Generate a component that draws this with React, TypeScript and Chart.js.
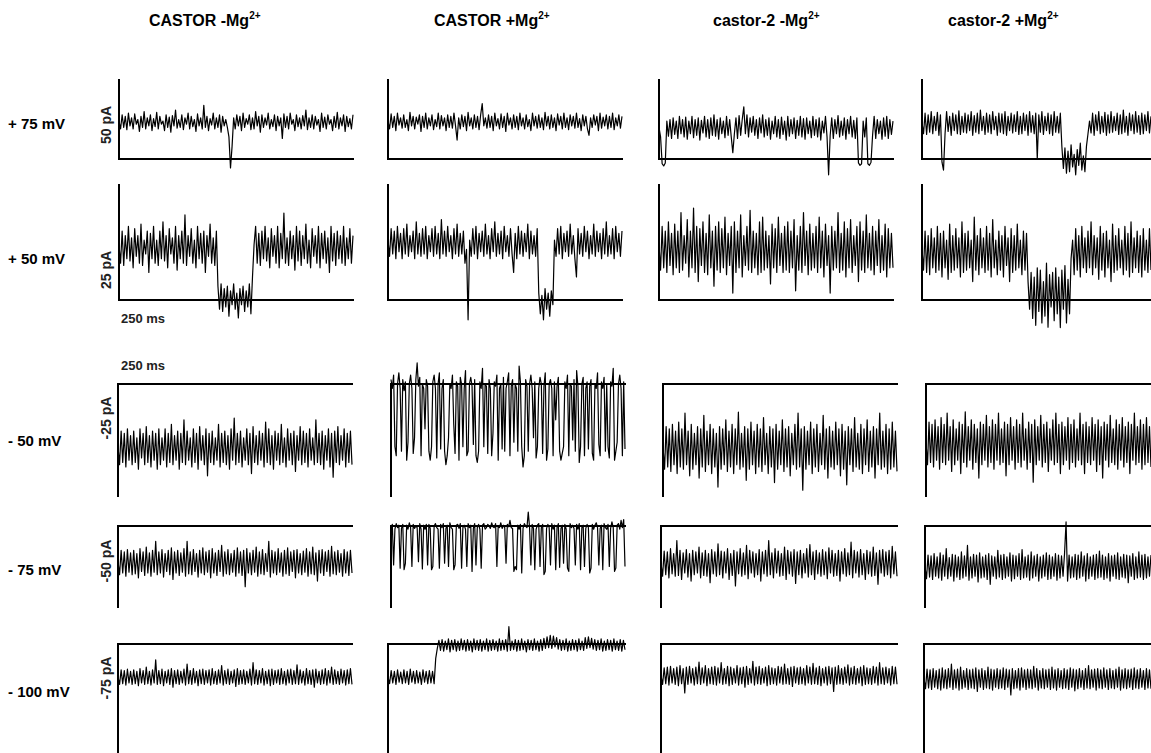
import React, { useEffect, useRef } from "react";
import { Chart, registerables } from "chart.js";

Chart.register(...registerables);

// ---------- text ----------
const columnTitles = ["CASTOR -Mg", "CASTOR +Mg", "castor-2 -Mg", "castor-2 +Mg"];
const ionCharge = "2+";
const voltageLabels = ["+ 75 mV", "+ 50 mV", "- 50 mV", "- 75 mV", "- 100 mV"];
const scaleBarLabels = ["50 pA", "25 pA", "-25 pA", "-50 pA", "-75 pA"];
const timeBarLabel = "250 ms";

// ---------- current scale (pA) of each row: [min, max] ----------
const rowRanges: [number, number][] = [[0, 50], [0, 25], [-25, 0], [-50, 0], [-75, 0]];

// ---------- traces (pA) ----------
// +75 mV
const r1c1 = [24,19,28,20,27,18.5,29,21,26,19,28.5,22,25,17.5,27,20,30,19,26,21,28,18,25.5,20.5,29.5,19,27,22,24,18,28,20,26.5,17,27.5,21,31,19.5,25,20,28,18.5,26,22,29,19,27,20.5,25,17.5,28.5,21,26,19,34,20,27,18,25.5,21.5,29,19,26,20,28,17,27,21,25,20,14,-5.7,8,26,19,28,21,27,18,29,20,25.5,22,28,18.5,26,19,30,21,27,17,28,20,26,21.5,29,19,25,20.5,28,18,27,21,26,13,28.5,20,27,19,29,22,25,18,28,20.5,26,19,27.5,21,31,18.5,26,20,28,19,27,21.5,25,17.5,29,20,26.5,19,28,22,25,18,27,20,29.5,19,26,21,28,17.5,27,20.5,25.5,19,28];
const r1c2 = [24,19,28.5,20,27,18,29,21.5,26,19.5,28,20,25,18,29.5,21,27,19,26.5,22,28,17.5,27,20,29,19,26,21,28,18.5,25,20.5,29,19,27.5,21,26,18,28,20,27,19.5,29,21,12,26,19,28,20.5,27,18,29.5,21,26,19,28,20,27,18.5,28,35,21,26,19.5,28,20,27,18,29,21,25.5,19,28.5,20,27,17.5,29,21.5,26,19,28,20,27,18.5,29,21,26,19,28,20.5,25,18,29,21,27,19.5,28,20,26,18.5,29.5,21,27,19,28,20,26,18,28.5,21.5,27,19,29,20,26,18.5,28,21,27,19.5,29,20,25.5,18,28,21,27,19,15,26,20,28,21.5,27,18,29,19.5,26.5,21,28,19,27,20,29,18.5,26,21,28,19.5,27];
const r1c3 = [20,14,-3,-4.4,-2.5,24,14.5,25,13,26,15.5,24,13,27,16,25,14,26.5,12.5,24,16,27,13.5,25,15,26,12,24.5,16.5,27,14,25,13,26,15,28,14.5,25,12.5,26,16,24,13.5,27,15,25,14,4,16,26,13,27.5,15,25,33,16,28,14,26,17,27,15,25,13,26,16.5,28,14,25,15,26,12.5,24,16,27,14,25,13,26.5,15.5,24,12,27,14.5,25,16,26,13,24.5,15,27,14,25.5,12.5,26,16,24,13.5,27,15,25,14,26,12,24,16.5,27,14,-10,15,26,13,25,16,27.5,14,24,15,26,12.5,25,16,27,14,24.5,13,26,-2.5,-4,-3,24,14,26,-3,-4,-2,15,27,13,25,16,24,12.5,26,14.5,27,13,25,15.5,24];
const r1c4 = [23,16,29,15.5,28,17,30,16,27,18,29.5,15,28,-2,-7,16,30,17.5,27,15,29,18,28,16,30.5,15.5,27,17,29,16.5,28,18,30,15,27.5,17,29,16,31,18,27,15.5,29,17,28,16,30,18.5,27,15,29,17,28.5,16,30,15,27,18,29,16.5,28,17.5,30,15.5,27,16,29,18,28,15,30,17,27.5,16,29,0,28,17,30,15.5,27,18,29,16,28,15,30,17,27,16.5,29,8,-6,7,-9,5,-8,9,-5,3,-10,6,-4,10,-7,2,-8,8,16,24,16.5,29,15,28,18,30,16,27,17,29.5,15,28,16.5,30,17,27,18,29,15.5,28,16,31,17,27,15,29,18,28,16,30,17,27.5,15.5,29,16,28,18,30,16.5,27];
// +50 mV
const r2c1 = [12,8,15,7.5,14,9,16,8.5,13.5,7,15.5,9.5,14,8,16.5,7.5,13,10,15,6,14.5,9,16,8,13,7.5,15,9,17,8.5,14,7,15.5,10,13.5,8,16,6.5,14,9,15,8,18.5,7.5,14,9.5,15.5,8,13,7,16,9,14.5,8,15,6,14,9.5,16.5,8,13.5,7.5,15,3,-2,3.5,-2.5,2.5,-1.5,3,-3.5,2,-1,3.5,-2,1.5,-3.9,2.5,-1,3,-2.5,2,-1.5,3.5,-3,5,12,16,8,14.5,7.5,15,9,16,8.5,13.5,7,15.5,9.5,14,8,16,7,14.5,9,18.9,8,13.5,7.5,15,9,14,6.5,16,8.5,15,7.5,14,9,16.5,8,13,7,15.5,9.5,14,8,16,7,14.5,9,15,8,13.5,6,16,8.5,14.5,7.5,15,9,14,8,16,7.5,13.5,9,15.5,8,14];
const r2c2 = [13,9.5,15.5,10,15,9,16,10.5,14.5,9,15.5,10,16.5,9.5,14,10.5,15,9,17,10,14.5,9.5,15.5,10,16,9,14,10.5,15.5,9.5,16,10,14.5,9,17.5,10,15,9.5,16,10.5,14,9,15.5,10,16.5,9.5,14.5,10,15,8,11,-4.3,13,9.5,15.5,10,16,9,14.5,10.5,15,9.5,16.5,10,14,9,15.5,10.5,17,9.5,14.5,10,15,9,16,10.5,14,9.5,15.5,10,6,14.5,9,16,10,15,9.5,14.5,10.5,16.5,9,15,10,14,9.5,15.5,1.5,-3,1,-4.3,2.5,-2,1.5,-3.5,2,-1,13,9.5,15.5,10,16,9,14.5,10.5,15,9.5,16.5,10,14,9,5,15.5,10,14.5,9.5,16,10.5,15,9,14,10,16.5,9.5,15,10.5,14.5,9,15.5,10,17,9.5,14,10,15.5,9,16,10.5,14.5,9.5,15];
const r2c3 = [12,6.5,16,7,15,6,17,7.5,14.5,5.5,16.5,7,15,6,19,6.5,14,8,17.5,5,15,7,20,6,16,4,15.5,7.5,17,6,14.5,5.5,18.5,7,15,3,16,6.5,17,6,15.5,7,18,5.5,14.5,7.5,16,1.5,17,6,15,7,18.5,5,14,7.5,16,6.5,19.5,6,15,7,14.5,5.5,17,6,18,6.5,15,7,14,3.5,16.5,7,15.5,6,18,7.5,14.5,6,16,6.5,17,6,15,7,17.5,2,14,6.5,16,6,19,7.5,15,5.5,16.5,6.5,14.5,7,16,6,18,7,15,5,16.5,7.5,14,1.5,16,6.5,15,7,19,6,14.5,6.5,17,5,15.5,7,17.5,6,14,7.5,16,4,17,6.5,15,6,18.5,7,14.5,6.5,16,5.5,15,7.5,17.5,6,14,6.5,16.5,5,15.5,7,14.5,7];
const r2c4 = [11,6.5,15,6,14,5.5,15.5,7,13.5,6,16,6.5,14.5,5,15,7,13,4.5,16.5,6,14,6.5,15.5,7,13.5,5,17,6,14.5,6.5,15,7,13,4,18,6.5,14,5.5,15.5,7,13.5,6,16,6.5,14.5,5,17.5,7,13,5.5,15,6.5,14,5,16,7.5,13.5,4,15.5,6,14,6.5,16.5,7,13,5.5,15,6.5,14.5,4,-2,6,-4,5,-5.5,7,-2.5,6.5,-5,4,-3.5,8,-5.9,5.5,-1.5,6,-4.5,7,-3,5,-6,6.5,-2,7.5,-5,4.5,-3,9,13,5.5,15.5,6.5,14,5,16,7,13.5,6,15,7,17,5.5,14,7,13.5,4.5,16,6.5,14.5,5,15,7,13,4,16.5,6,14,6.5,15.5,7,13,5.5,16,6.5,14.5,5,17,6,13.5,7,15,6,14,5,15.5,6.5,13,6,15.5,6.5];
// -50 mV
const r3c1 = [-14,-18,-10.5,-17.5,-11,-18.5,-10,-17,-11.5,-18,-10.5,-17.5,-12,-19,-10,-16.5,-11,-18,-9.5,-17.5,-11.5,-18.5,-10.5,-17,-11,-19,-10,-18,-12,-17,-10,-18.5,-11,-17.5,-9,-18,-11.5,-17,-10.5,-19,-11,-17.5,-8,-18,-10.5,-17,-12,-18.5,-10,-17.5,-11,-19,-9.5,-17,-11.5,-18,-10,-20.5,-11,-17.5,-10.5,-18,-12,-17,-9,-18.5,-11,-17.5,-10.5,-18,-11.5,-19,-10,-17,-7.6,-18,-11,-17.5,-10.5,-18.5,-12,-17,-10,-18,-11,-20,-9.5,-17.5,-11.5,-18,-10.5,-17,-11,-18.5,-8.5,-17.5,-10,-18,-11.5,-19,-10.5,-17,-11,-18,-9,-17.5,-12,-18.5,-10,-17,-11,-18,-10.5,-19.5,-11.5,-17,-9.5,-18,-10.5,-17.5,-11,-18.5,-10,-17,-12,-18,-8,-17.5,-11,-18,-10.5,-19,-11.5,-17,-10,-18.5,-11,-20.8,-10.5,-17.5,-9.5,-18,-11.5,-17,-10,-18.5,-11,-17.5,-10.5,-18];
const r3c2 = [1,-1,2,-14,-16,0,2.5,-1,-15,1,-1.5,0.5,-17,-13,0,2,-1,-15.5,-12,1,4.7,-0.5,1.5,-16,0,-1,-10,1,-0.5,-15,-17,-14,0.5,2,-1,-16.5,0,2.5,-14.5,-1,1,-15,-18,-16,-12,0,-1,2,-9,-15.5,0.5,-0.5,-17,1.5,0,-14,-1,3,-16,-15,0,1.5,-0.5,-13.5,1,-16,-17.5,-15,0.5,-1,3.5,-14,0,-0.5,-15.5,1,-1,-16,-11,0.5,-0.5,2,-17,-1,0,-14.5,1.5,-15,-1,0.5,2.5,-16,-0.5,1,-13,0,-1,-15,4,0.5,-14,-18.5,-16,1,-0.5,-15,0,2,-1,-12,0.5,-16.5,-14,-1,1.5,0,-15.5,-0.5,2.5,-17,-14.5,0,1,-1,-16,0.5,-8,-0.5,1.5,-15,-17,-15.5,-14,0.5,-1,2,-16,0,-0.5,-12.5,1,-15,3,-0.5,-17.5,-14,0,1.5,-16,-1,0.5,-14.5,-0.5,1,-15.5,-17,0,-1,2.5,-13.5,-16,0.5,-1,1.5,-15,0,-14,-16.5,0.5,-0.5,3.5,-17,-15,-13,0,2,-1,-16,0.5,-14.5];
const r3c3 = [-14,-19,-9.5,-18.5,-10,-19.5,-9,-18,-10.5,-20,-8.5,-18.5,-10,-19,-6.5,-18,-10.5,-20.5,-9,-19,-11,-18,-9.5,-21,-10,-18.5,-7,-19.5,-10.5,-18,-9,-20,-10,-18.5,-11,-23,-9.5,-19,-10,-18,-8,-19.5,-10.5,-18.5,-9,-20,-10,-18,-6.3,-19,-11,-18.5,-9.5,-21.5,-10,-19,-8.5,-18,-10.5,-20,-9,-18.5,-10,-19.5,-7.5,-18,-11,-20,-9.5,-18.5,-10,-22,-9,-19,-10.5,-18,-8,-19.5,-10,-18.5,-9.5,-20.5,-11,-18,-9,-19,-6.5,-18.5,-10,-23.7,-9.5,-19,-10.5,-18,-8.5,-20,-10,-18.5,-9,-19.5,-11,-18,-7,-19,-10,-21,-9.5,-18.5,-10.5,-19,-8.5,-18,-10,-20.5,-9,-19,-10.5,-22.5,-9.5,-18,-10,-19.5,-7.5,-18.5,-11,-19,-9,-20,-10,-18,-8,-19.5,-10.5,-18.5,-9.5,-21,-10,-18,-6.5,-19,-10.5,-18.5,-9,-20,-10,-19,-8.5,-18.5,-10.5,-19.5];
const r3c4 = [-13,-18,-8.5,-17.5,-9,-18.5,-8,-17,-9.5,-19,-7.5,-17.5,-9,-18,-6.5,-17,-9.5,-19.5,-8,-18,-10,-17,-8.5,-20,-9,-17.5,-6.2,-18.5,-9.5,-17,-8,-19,-9,-17.5,-10,-21,-8.5,-18,-9,-17,-7,-18.5,-9.5,-17.5,-8,-19,-9,-17,-6.5,-18,-10,-17.5,-8.5,-20.5,-9,-18,-7.5,-17,-9.5,-19,-8,-17.5,-9,-18.5,-6.5,-17,-10,-19,-8.5,-17.5,-9,-21.9,-8,-18,-9.5,-17,-7,-18.5,-9,-17.5,-8.5,-19.5,-10,-17,-8,-18,-6.5,-17.5,-9,-20,-8.5,-18,-9.5,-17,-7.5,-19,-9,-17.5,-8,-18.5,-10,-17,-6.5,-18,-9,-20,-8.5,-17.5,-9.5,-18,-7.5,-17,-9,-19.5,-8,-18,-9.5,-21,-8.5,-17,-9,-18.5,-7,-17.5,-10,-18,-8,-19,-9,-17,-7.5,-18.5,-9.5,-17.5,-8.5,-20,-9,-17,-6.5,-18,-9.5,-17.5,-8,-19,-9,-18,-7.5,-17.5,-9.5,-18.5];
// -75 mV
const r4c1 = [-22,-30,-15,-29,-16,-31,-14.5,-28.5,-16.5,-30,-15,-29.5,-17,-32,-14,-28,-16,-30.5,-13,-29,-16.5,-31,-15,-28.5,-9.5,-30,-16,-29,-14.5,-31.5,-17,-28,-15,-30,-13.5,-33,-16,-29,-15,-30.5,-16.5,-28.5,-14,-31,-9.5,-29.5,-16,-30,-14.5,-28,-17,-31.5,-15,-29,-13.5,-30,-16,-28.5,-15,-32,-14,-29,-16.5,-30.5,-15,-28,-12,-31,-16,-29.5,-14.5,-30,-17,-28.5,-15,-31,-13.5,-29,-16,-30.5,-15,-37.5,-14,-29,-16.5,-30,-15,-28.5,-13,-31,-16,-29.5,-14.5,-30,-17,-28,-9.5,-31.5,-15,-29,-16,-30,-14,-28.5,-16.5,-31,-15,-29.5,-13.5,-30.5,-16,-28,-15,-32,-14.5,-29,-17,-30,-15.5,-28.5,-14,-31,-16,-29.5,-13,-30,-16.5,-34,-15,-29,-14.5,-30.5,-16,-28,-15,-31,-12.5,-29.5,-16,-30,-15,-28.5,-17,-31,-14.5,-29,-16,-30.5,-15,-29];
const r4c2 = [-1,1,-24,-2,1.5,-1,0.5,-26,-1.5,1,-27,-23,0.5,-2,2,-1,-25,1,-1.5,0,-1,-22,1.5,-2,-26.5,0.5,-2,1,-24,1,-1.5,-27,-25,0,1.5,-1,-2,-26,1,-1,1.5,-23,-1.5,0.5,-25,2,-1,-2,-27,-24,0.5,1,-1.5,1.5,-26,-1,0.5,-2,-25,1.5,-1,0.5,-28,-1.5,1.5,-24,-1,1,-2,-26,0.5,1.5,-2,-1,1,0,-1.5,2,-0.5,-1,1.5,-25,0,-1,2,-1.5,0.5,-1,-23,1,-0.5,3.5,-1,-1.5,-28,-25,-27,0.5,-2,1,-29,-1.5,1.5,0,-1,8.6,-1,-24,1,-1.5,-27,-2,0.5,1.5,-25,-1,1,-30,-28,-1.5,1,-1,-24,1.5,-2,0.5,-27,-1,1.5,-25.5,-1.5,0.5,-23,1,-2,-26,-28,1.5,-1,0.5,-1.5,-24,1,-2,1.5,-27,-1,0.5,-25,-1.5,1,-1,-29,-26,1,-2,0.5,2,-1,-24,-1.5,0.5,-27,1.5,-1,-2,1,-25,-1.5,2.5,-1,-28,-26,0.5,1.5,-2,3.5,-1,4,-25];
const r4c3 = [-23,-31,-15.5,-30,-16,-32,-14,-29.5,-17,-31,-9,-30.5,-15,-33,-16.5,-29,-14.5,-31.5,-17,-34,-15,-30,-16,-29,-13,-32,-16.5,-30.5,-15,-31,-17,-35,-14.5,-29.5,-16,-31,-11,-30,-15.5,-32,-16,-29,-14,-33,-17,-30.5,-15,-37,-16,-29.5,-14,-31,-16.5,-30,-12,-32.5,-15,-29,-16,-31.5,-17,-30,-14.5,-34,-16,-29.5,-15,-31,-9,-30,-16.5,-32,-14,-29,-15.5,-31,-17,-30.5,-13,-33,-15,-29.5,-16,-31,-14.5,-35.5,-16,-30,-15,-32,-17,-29,-14,-31.5,-11.5,-30,-16,-33,-15,-29.5,-16.5,-31,-14.5,-30,-16,-32.5,-13.5,-29,-15,-31,-17,-30.5,-15,-34,-16,-29.5,-14,-31,-16.5,-30,-10,-32,-15,-29,-16,-31.5,-14.5,-30,-17,-33,-15,-29.5,-16,-31,-13,-30.5,-16.5,-36,-15,-29,-14.5,-31,-16,-30,-15,-32,-12.5,-29.5,-16,-31];
const r4c4 = [-25,-32.5,-18,-31.5,-18.5,-33,-17,-31,-19,-32,-16.5,-33.5,-18,-31,-14,-32.5,-19.5,-31,-17.5,-34,-18,-31.5,-19,-33,-16,-32,-18.5,-31,-12,-33.5,-19,-32,-17.5,-31,-18,-34.5,-16.5,-32,-19,-31.5,-18,-33,-17,-36,-18.5,-31,-19,-32.5,-15,-31.5,-18,-33,-17.5,-32,-19,-31,-16.5,-34,-18,-32.5,-18.5,-31,-17,-33,-14.5,-32,-19,-31.5,-18,-33.5,-16,-32,-18.5,-31,-17.5,-34,-19,-32,-18,-31,-16.5,-33,-18,-32.5,-19,-31,-17,-33.5,-18,-32,-18.5,-31,-17,2.5,-34,-18,-32,-19,-31.5,-17.5,-33,-18,-32,-16,-31,-18.5,-34,-17,-32.5,-19,-31,-18,-33,-17.5,-32,-15.5,-31.5,-18,-33,-19,-32,-17,-34,-18.5,-31,-18,-32.5,-16.5,-33,-19,-31.5,-17.5,-32,-18,-35,-18.5,-31,-17,-33,-19,-32,-16,-31.5,-18,-33,-17.5,-32,-19,-31,-18];
// -100 mV
const r5c1 = [-23,-28,-18,-27.5,-18.5,-28.5,-17.5,-27,-19,-28,-18,-27.5,-19,-29,-17,-27,-18.5,-28,-16,-27.5,-19,-28.5,-18,-27,-11,-28,-18.5,-27.5,-17.5,-29,-19,-27,-18,-28,-17,-30,-18.5,-27.5,-18,-28,-19,-27,-17.5,-28.5,-14,-27.5,-18.5,-28,-17,-27,-19,-29,-18,-27.5,-17.5,-28,-18.5,-27,-18,-28.5,-17,-27.5,-19,-28,-18,-27,-15,-28.5,-18.5,-27.5,-17.5,-28,-19,-27,-18,-29.5,-17,-28,-18.5,-27.5,-18,-28,-19,-27,-17.5,-28.5,-13,-27.5,-18,-28,-18.5,-27,-17,-28.5,-19,-27.5,-18,-29,-17.5,-28,-18.5,-27,-18,-28,-17,-27.5,-19,-28.5,-18,-27,-17.5,-28,-18.5,-27.5,-14.5,-28,-18,-27,-19,-28.5,-17,-27.5,-18.5,-28,-18,-30,-17.5,-27,-19,-28,-18,-27.5,-17,-28.5,-18.5,-27,-16,-28,-18,-27.5,-19,-28,-17.5,-27,-18.5,-28.5,-18,-27.5,-17,-28];
const r5c2 = [-23,-27.5,-18.5,-27,-19,-28,-18,-26.5,-19.5,-27.5,-18,-27,-19,-28,-17.5,-26.5,-19,-27.5,-18.5,-27,-19.5,-28,-18,-26.5,-19,-27.5,-18.5,-27,-19,-27.5,-10,-3,2.5,-4.5,3,-5,2,-4,3.5,-5.5,2.5,-4,3,-5,2,-4.5,3.5,-4,2.5,-5,3,-4.5,2,-5.5,3.5,-4,2.5,-4.5,3,-5,2,-4,3.5,-5,2.5,-4.5,3,-4,2,-5,3.5,-4.5,2.5,-4,3,-5,12,-4.5,2,-4,3,-5,2.5,-4.5,3.5,-4,2,-5.5,3,-4,2.5,-4.5,3.5,-4,2,-5,3,-4.5,4,-3,5,-2.5,6,-3,5.5,-2,4.5,-3.5,3,-4.5,2.5,-4,3.5,-5,2,-4.5,3,-4,2.5,-5,3.5,-4,2,-4.5,4.5,-3,5,-2.5,4,-3.5,3,-4.5,2.5,-4,3.5,-5,2,-4.5,3,-4,2.5,-5,3.5,-4,2,-4.5,3,-5,2.5,-4];
const r5c3 = [-22,-28,-16.5,-27.5,-16,-28.5,-15.5,-27,-17,-28,-16,-29,-15,-27.5,-17,-34,-16,-28,-15.5,-27,-17,-28.5,-16,-27.5,-12.5,-28,-16.5,-27,-15,-29,-17,-27.5,-16,-28,-15.5,-28.5,-16.5,-27,-13,-28,-17,-27.5,-15.5,-29,-16,-28,-17,-27,-15,-28.5,-16.5,-27.5,-16,-30,-15.5,-28,-17,-27,-12,-28.5,-16,-27.5,-15.5,-28,-17,-27,-16,-29,-15,-28,-16.5,-27.5,-17,-28.5,-15.5,-27,-16,-28,-14,-27.5,-17,-28,-16,-29.5,-15.5,-27,-16.5,-28,-16,-27.5,-17,-28.5,-15,-27,-16,-28,-13.5,-27.5,-16.5,-28,-15.5,-29,-17,-27,-16,-28.5,-15.5,-27.5,-16.5,-33,-16,-28,-15,-27.5,-17,-28,-16,-27,-14.5,-28.5,-16.5,-27.5,-15.5,-28,-17,-27,-16,-29,-15,-28,-16.5,-27.5,-17,-28,-15.5,-27,-16,-28.5,-13,-27.5,-16.5,-28,-16,-27,-17,-28.5,-15.5,-27.5,-16,-28];
const r5c4 = [-24,-31,-17.5,-30.5,-18,-31.5,-17,-30,-18.5,-31,-17.5,-32,-16.5,-30.5,-18,-31,-17,-30,-14,-31.5,-18,-30.5,-17.5,-32,-16,-31,-18.5,-30,-17,-31.5,-18,-30.5,-17.5,-31,-16.5,-33,-18,-30,-17,-31.5,-18.5,-30.5,-16,-31,-17.5,-32,-18,-30,-17,-31,-18,-30.5,-16.5,-31.5,-17.5,-30,-18,-35.4,-17,-31,-18.5,-30.5,-17,-32,-16.5,-30,-18,-31.5,-17.5,-30.5,-18,-31,-15.5,-30,-17,-32,-18.5,-30.5,-17,-31,-18,-30,-17.5,-31.5,-16,-30.5,-18,-32,-17,-30,-18.5,-31,-17,-30.5,-18,-31.5,-16.5,-30,-17.5,-32.5,-18,-31,-17,-30,-18.5,-31.5,-17,-30.5,-15,-31,-18,-30,-17.5,-32,-17,-30.5,-18,-31,-16.5,-30,-18,-31.5,-17,-30.5,-18.5,-31,-17.5,-30,-16,-32,-18,-30.5,-17,-31,-18,-30,-17.5,-31.5,-16.5,-30.5,-18,-31,-17,-30,-18.5,-31.5,-17,-30.5,-18,-31];

const traceGrid = [
  [r1c1, r1c2, r1c3, r1c4],
  [r2c1, r2c2, r2c3, r2c4],
  [r3c1, r3c2, r3c3, r3c4],
  [r4c1, r4c2, r4c3, r4c4],
  [r5c1, r5c2, r5c3, r5c4],
];

// ---------- layout (pixels) ----------
const PAD = 40;
const panelLeft = [
  [119, 388, 659, 922],
  [119, 388, 659, 922],
  [118, 391, 663, 926],
  [118, 391, 661, 925],
  [118, 388, 661, 924],
];
const panelRight = [
  [353, 622, 893, 1151],
  [353, 622, 893, 1151],
  [352, 625, 897, 1151],
  [352, 625, 897, 1151],
  [352, 625, 897, 1151],
];
const panelTop = [80, 185, 384, 526, 644];
const panelBottom = [159, 300, 496, 607, 752];
const titleLeft = [149, 434, 713, 948];
const rowLabelY = [124, 259, 441, 570, 692];
const scaleLabelY = [125, 270, 418, 561, 678];

const FONT = "Arial, 'Liberation Sans', Helvetica, sans-serif";

type PanelProps = {
  values: number[];
  range: [number, number];
  left: number;
  right: number;
  top: number;
  bottom: number;
  axisTop: boolean;
};

function Panel({ values, range, left, right, top, bottom, axisTop }: PanelProps) {
  const ref = useRef<HTMLCanvasElement>(null);
  const w = right - left + 2 * PAD;
  const h = bottom - top + 2 * PAD;
  useEffect(() => {
    if (!ref.current) return;
    const pts = values.map((v, i) => ({ x: i, y: v }));
    const axisStyle = {
      grid: { display: false, drawTicks: false, tickLength: 0 },
      ticks: { display: false },
      border: { display: true, color: "#000", width: 2 },
    };
    const chart = new Chart(ref.current, {
      type: "line",
      data: {
        datasets: [
          {
            data: pts,
            borderColor: "#000",
            borderWidth: 1.2,
            borderJoinStyle: "round",
            pointRadius: 0,
            tension: 0,
            clip: false as any,
          },
        ],
      },
      options: {
        animation: false,
        responsive: false,
        maintainAspectRatio: false,
        events: [],
        layout: { padding: { left: PAD, right: PAD, top: PAD, bottom: PAD } },
        plugins: { legend: { display: false }, tooltip: { enabled: false } },
        scales: {
          x: {
            type: "linear",
            min: 0,
            max: values.length - 1,
            position: axisTop ? "top" : "bottom",
            ...axisStyle,
          },
          y: {
            type: "linear",
            min: range[0],
            max: range[1],
            ...axisStyle,
          },
        },
      },
    });
    return () => chart.destroy();
  }, []);
  return (
    <canvas
      ref={ref}
      width={w}
      height={h}
      style={{ position: "absolute", left: left - PAD, top: top - PAD, width: w, height: h }}
    />
  );
}

export default function App() {
  return (
    <div
      style={{
        position: "fixed",
        left: 0,
        top: 0,
        width: 1151,
        height: 753,
        overflow: "hidden",
        background: "#fff",
        fontFamily: FONT,
        color: "#000",
      }}
    >
      {columnTitles.map((t, c) => (
        <div
          key={"t" + c}
          style={{
            position: "absolute",
            left: titleLeft[c],
            top: 12,
            fontSize: 16,
            fontWeight: "bold",
            lineHeight: "17px",
            whiteSpace: "nowrap",
          }}
        >
          {t}
          <sup style={{ fontSize: 10, verticalAlign: "7px", lineHeight: 0 }}>{ionCharge}</sup>
        </div>
      ))}
      {voltageLabels.map((t, r) => (
        <div
          key={"v" + r}
          style={{
            position: "absolute",
            left: 8,
            top: rowLabelY[r] - 8,
            fontSize: 15,
            fontWeight: "bold",
            lineHeight: "16px",
            whiteSpace: "nowrap",
          }}
        >
          {t}
        </div>
      ))}
      {scaleBarLabels.map((t, r) => (
        <div
          key={"s" + r}
          style={{
            position: "absolute",
            left: 106,
            top: scaleLabelY[r],
            fontSize: 14,
            fontWeight: "bold",
            lineHeight: "14px",
            whiteSpace: "nowrap",
            color: "#222",
            transform: "translate(-50%, -50%) rotate(-90deg)",
          }}
        >
          {t}
        </div>
      ))}
      <div
        style={{ position: "absolute", left: 121, top: 312, fontSize: 13, fontWeight: "bold", lineHeight: "14px", color: "#222" }}
      >
        {timeBarLabel}
      </div>
      <div
        style={{ position: "absolute", left: 121, top: 359, fontSize: 13, fontWeight: "bold", lineHeight: "14px", color: "#222" }}
      >
        {timeBarLabel}
      </div>
      {traceGrid.map((row, r) =>
        row.map((values, c) => (
          <Panel
            key={r + "-" + c}
            values={values}
            range={rowRanges[r]}
            left={panelLeft[r][c]}
            right={panelRight[r][c]}
            top={panelTop[r]}
            bottom={panelBottom[r]}
            axisTop={r >= 2}
          />
        ))
      )}
    </div>
  );
}
